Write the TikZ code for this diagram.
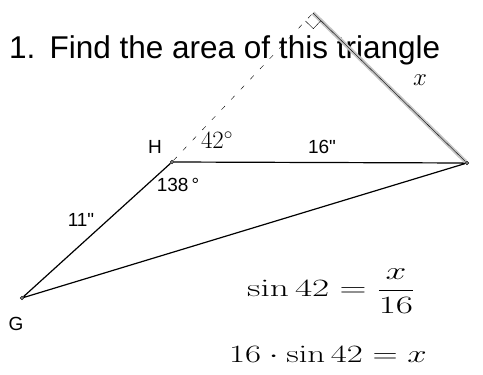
\documentclass[tikz,border=0pt]{standalone}
\usepackage[no-math]{fontspec}
\setmainfont{Liberation Sans}
\usetikzlibrary{calc}
\begin{document}
\begin{tikzpicture}[x=1pt,y=-1pt,
    vertex/.style={circle,draw,fill=gray,inner sep=1.3pt},
    lbl/.style={font=\fontsize{19}{19}\selectfont},
    hand/.style={font=\fontsize{30}{30}\selectfont}]
    \useasboundingbox (0,0) rectangle (483,375);
    \node[anchor=base west,inner sep=0,font=\fontsize{31.5}{31.5}\selectfont] (title) at (9,58) {1.\hspace{0.45em}Find the area of this triangle};
    \node[vertex] (H) at (172,162) {}; \node[vertex] (R) at (467,163) {}; \node[vertex] (G) at (22,298) {};
    \coordinate (F) at (313,13);
    \draw[line width=1.2pt] (G) -- (H) -- (R) -- (G);
    \draw[dashed,dash pattern=on 5pt off 9pt] (H) -- (F);
    \draw[line width=4pt,gray!45] (R) -- (F); \draw (R) -- (F);
    \coordinate (a) at ($(F)!11pt!(R)$); \coordinate (b) at ($(F)!11pt!(H)$);
    \draw (a) -- ($(a)+(b)-(F)$) -- (b);
    \node[lbl] (hl) at (155,147) {H};
    \node[lbl] (gl) at (16,324) {G};
    \node[lbl] (top) at (322,147) {16\textquotedbl};
    \node[lbl] (ang) at (178,185) {138\,°};
    \node[lbl] (side) at (81,220) {11\textquotedbl};
    \node[hand,font=\fontsize{27}{27}\selectfont] (alpha) at (217,140) {$42^\circ$};
    \node[hand,font=\fontsize{36}{36}\selectfont] (xl) at (420,80) {$x$};
    \node[hand,inner sep=0,font=\fontsize{26}{26}\selectfont] (eq1) at (331,291) {\scalebox{1.5}[1]{$\displaystyle\sin 42=\frac{x}{16}$}};
    \node[hand,inner sep=0] (eq2) at (328,354) {\scalebox{1.4}[1]{$16\cdot\sin 42=x$}};
\end{tikzpicture}
\end{document}
